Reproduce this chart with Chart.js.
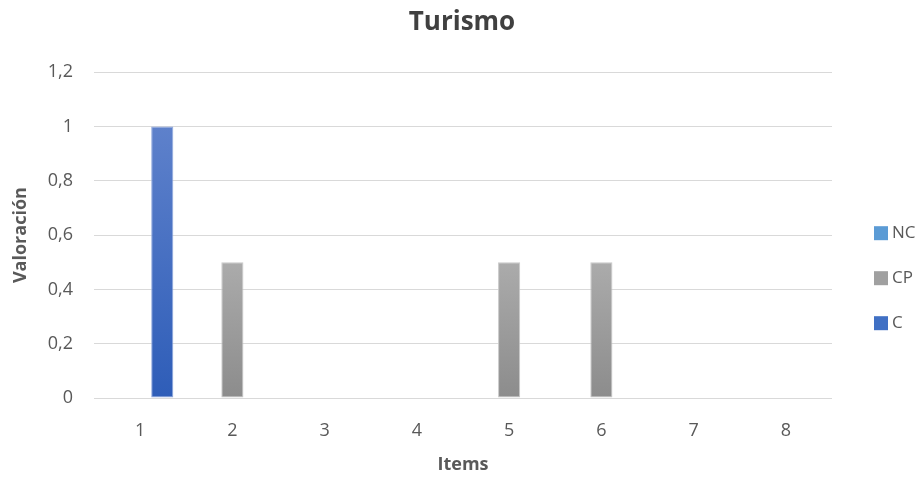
<!DOCTYPE html>
<html>
<head>
<meta charset="utf-8">
<script src="https://cdn.jsdelivr.net/npm/chart.js@4.4.1/dist/chart.umd.min.js"></script>
<style>
  body { margin: 0; background: #fff; }
  #wrap { width: 924px; height: 477px; }
</style>
</head>
<body>
<div id="wrap"><canvas id="turismoChart" width="924" height="477"></canvas></div>
<script>
// data
const categories = ['1', '2', '3', '4', '5', '6', '7', '8'];
const ncValues = [0, 0, 0, 0, 0, 0, 0, 0];
const cpValues = [0, 0.5, 0, 0, 0.5, 0.5, 0, 0];
const cValues = [1, 0, 0, 0, 0, 0, 0, 0];
const yTickLabels = ['0', '0,2', '0,4', '0,6', '0,8', '1', '1,2'];

const seriesNames = ['NC', 'CP', 'C'];
const seriesTop = ['#6FA5DC', '#ABABAB', '#5E81CB'];
const seriesBottom = ['#4A89CF', '#8C8C8C', '#2E5DB8'];
const seriesEdge = ['#9DC3EA', '#C8C8C8', '#8FA8DD'];
const legendColors = ['#5B9BD5', '#A0A0A0', '#4070C4'];

const textColor = '#595959';

// vertical gradient for each bar, from its top down to the zero line
function barGradient(i) {
    return function(context) {
        const chart = context.chart;
        const area = chart.chartArea;
        if (!area || context.type !== 'data' || !context.parsed) return seriesBottom[i];
        const yScale = chart.scales.y;
        const yTop = yScale.getPixelForValue(context.parsed.y);
        const yBase = yScale.getPixelForValue(0);
        if (!isFinite(yTop) || Math.abs(yBase - yTop) < 1) return seriesBottom[i];
        const g = chart.ctx.createLinearGradient(0, yTop, 0, yBase);
        g.addColorStop(0, seriesTop[i]);
        g.addColorStop(1, seriesBottom[i]);
        return g;
    };
}

function makeDataset(i, values) {
    return {
        label: seriesNames[i],
        data: values,
        backgroundColor: barGradient(i),
        borderColor: seriesEdge[i],
        borderWidth: function(context) {
            return context.raw ? 1 : 0;
        },
        borderSkipped: false
    };
}

// legend drawn at the right like the original
const sideLegend = {
    id: 'sideLegend',
    afterDraw(chart) {
        const ctx = chart.ctx;
        const area = chart.chartArea;
        const box = 14;
        const x = area.right + 42;
        ctx.save();
        ctx.font = '17px "Open Sans"';
        ctx.textBaseline = 'middle';
        ctx.textAlign = 'left';
        seriesNames.forEach((name, i) => {
            const cy = area.top + 161 + i * 45;
            ctx.fillStyle = legendColors[i];
            ctx.fillRect(x, cy - box / 2, box, box);
            ctx.fillStyle = textColor;
            ctx.fillText(name, x + box + 4, cy);
        });
        ctx.restore();
    }
};

const ctx = document.getElementById('turismoChart').getContext('2d');
new Chart(ctx, {
    type: 'bar',
    data: {
        labels: categories,
        datasets: [
            makeDataset(0, ncValues),
            makeDataset(1, cpValues),
            makeDataset(2, cValues)
        ]
    },
    options: {
        responsive: false,
        animation: false,
        devicePixelRatio: 1,
        categoryPercentage: 0.72,
        barPercentage: 1,
        layout: {
            padding: 0
        },
        plugins: {
            legend: { display: false },
            tooltip: { enabled: false },
            title: {
                display: true,
                text: 'Turismo',
                color: '#404040',
                font: { family: 'Open Sans', size: 26, weight: 'bold' },
                padding: { top: 7, bottom: 34 }
            }
        },
        scales: {
            y: {
                min: 0,
                max: 1.2,
                afterFit: function(scale) { scale.width = 94; },
                ticks: {
                    stepSize: 0.2,
                    color: textColor,
                    font: { family: 'Open Sans', size: 18 },
                    padding: 21,
                    callback: function(value, index) {
                        return yTickLabels[index];
                    }
                },
                grid: {
                    color: '#D9D9D9',
                    lineWidth: 1,
                    drawTicks: false
                },
                border: { display: false },
                title: {
                    display: true,
                    text: 'Valoración',
                    color: textColor,
                    font: { family: 'Open Sans', size: 18, weight: 'bold' },
                    padding: { top: 10, bottom: 0 }
                }
            },
            // empty right-hand box that leaves room for the legend
            side: {
                position: 'right',
                afterFit: function(scale) { scale.width = 92; },
                ticks: { display: false },
                grid: { display: false, drawTicks: false },
                border: { display: false }
            },
            x: {
                afterFit: function(scale) { scale.height = 79; },
                ticks: {
                    color: textColor,
                    font: { family: 'Open Sans', size: 18 },
                    padding: 22
                },
                grid: { display: false, drawTicks: false },
                border: { display: false },
                title: {
                    display: true,
                    text: 'Items',
                    color: textColor,
                    font: { family: 'Open Sans', size: 18, weight: 'bold' },
                    padding: { top: 0, bottom: 1 }
                }
            }
        }
    },
    plugins: [sideLegend]
});
</script>
</body>
</html>
